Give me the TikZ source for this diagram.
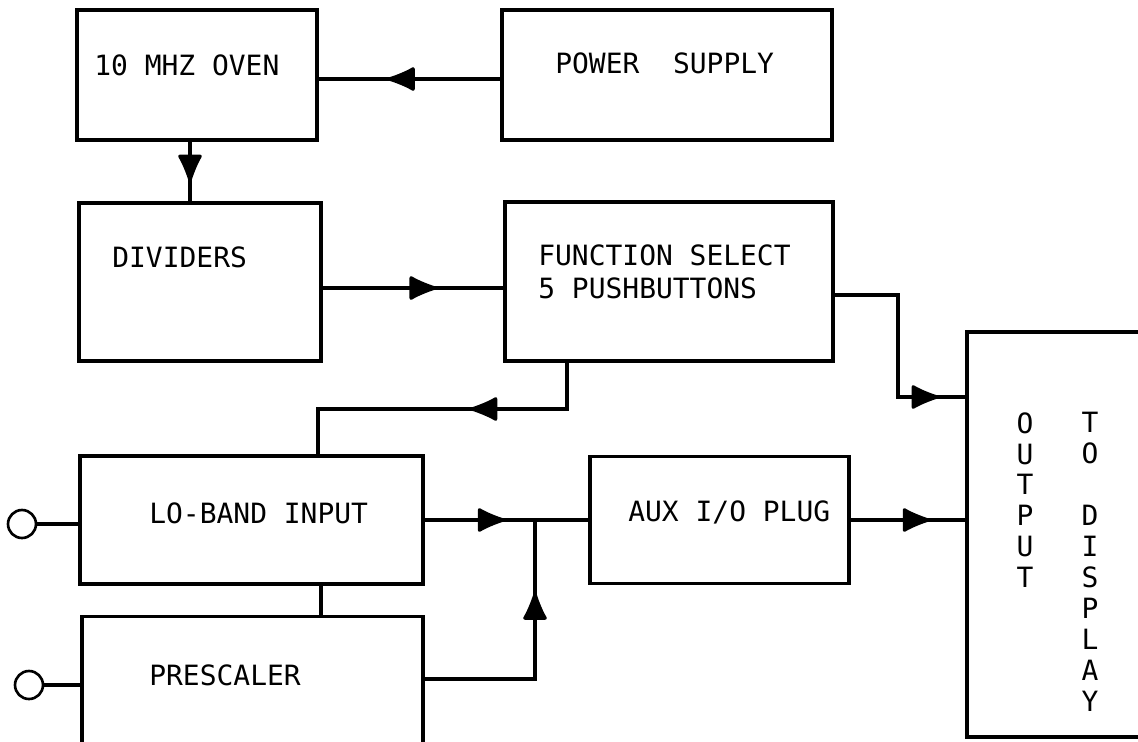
\documentclass[tikz,border=0pt]{standalone}
\usepackage{fontspec}
\newfontfamily\plotfont{DejaVu Sans Mono}
\usetikzlibrary{arrows.meta,positioning,calc,decorations.markings}

\begin{document}
\begin{tikzpicture}[x=0.02cm,y=-0.02cm,
 blk/.style={draw,line width=1.9pt,inner sep=0pt},
 txt/.style={font=\plotfont\fontsize{15.9}{18.8}\selectfont,inner sep=0pt,anchor=west,align=left},
 col/.style={txt,anchor=north,align=center,font=\plotfont\fontsize{15.9}{17.6}\selectfont},
 wire/.style={line width=1.9pt},
 jack/.style={circle,draw,line width=1.5pt,minimum size=0.56cm,inner sep=0pt},
 arrowat/.style={postaction={decorate,decoration={markings,mark=at position #1 with {\arrow{Latex[length=18pt,width=15pt,round]}}}}}]
\useasboundingbox (0,0) rectangle (1138,741);
% blocks
\node[blk,minimum width=4.8cm,minimum height=2.6cm] (oven) at (197,75) {};
\node[blk,minimum width=6.6cm,minimum height=2.6cm] (psu) at (667,75) {};
\node[blk,minimum width=4.84cm,minimum height=3.16cm] (div) at (200,282) {};
\node[blk,minimum width=6.56cm,minimum height=3.18cm] (fsel) at (669,281.5) {};
\node[blk,minimum width=6.86cm,minimum height=2.56cm] (lob) at (251.5,520) {};
\node[blk,minimum width=6.82cm,minimum height=3.66cm] (pre) at (252.5,708) {};
\node[blk,minimum width=5.18cm,minimum height=2.54cm] (aux) at (719.5,520) {};
\node[blk,minimum width=4.66cm,minimum height=8.1cm] (outd) at (1083.5,534.5) {};
\node[jack] (in1) at (22,524) {};
\node[jack] (in2) at (29,685) {};
% labels
\node[txt] (ovenl) at (94,65) {10 MHZ OVEN};
\node[txt] (psul) at (555,63) {POWER\ \ SUPPLY};
\node[txt] (divl) at (112,257) {DIVIDERS};
\node[txt] (fsell) at (538,271.5) {FUNCTION SELECT\\5 PUSHBUTTONS};
\node[txt] (lobl) at (149,513) {LO-BAND INPUT};
\node[txt] (prel) at (149,675) {PRESCALER};
\node[txt] (auxl) at (628,512) {AUX I/O PLUG};
\node[col] (outl) at (1025,412) {O\\U\\T\\P\\U\\T};
\node[col] (displ) at (1090,412) {T\\O\\~\\D\\I\\S\\P\\L\\A\\Y};
% wiring
\coordinate (j1) at (898,397);
\coordinate (j2) at (318,409);
\coordinate (j3) at (567,409);
\coordinate (j4) at (535,520);
\draw[wire,arrowat=0.62] ([yshift=-0.08cm]psu.west) -- ([yshift=-0.08cm]oven.east);
\draw[wire,arrowat=0.67] ([xshift=-0.14cm]oven.south) -- ([xshift=-0.14cm]oven.south |- div.north);
\draw[wire,arrowat=0.63] ([yshift=-0.12cm]div.east) -- ([yshift=-0.12cm]div.east -| fsel.west);
\draw[wire,arrowat=0.885] ([yshift=-0.27cm]fsel.east) -| (j1) -- (j1 -| outd.west);
\draw[wire,arrowat=0.42] (j3 |- fsel.south) -- (j3) -- (j2) -- (j2 |- lob.north);
\draw[wire,arrowat=0.49] (lob.east) -- (lob.east -| aux.west);
\draw[wire,arrowat=0.73] ([yshift=0.58cm]pre.east) -| (j4);
\draw[wire,arrowat=0.69] (aux.east) -- (aux.east -| outd.west);
\draw[wire] ([xshift=1.39cm]lob.south) -- ([xshift=1.39cm]lob.south |- pre.north);
\draw[wire] (in1) -- (in1 -| lob.west);
\draw[wire] (in2) -- (in2 -| pre.west);
\end{tikzpicture}
\end{document}
